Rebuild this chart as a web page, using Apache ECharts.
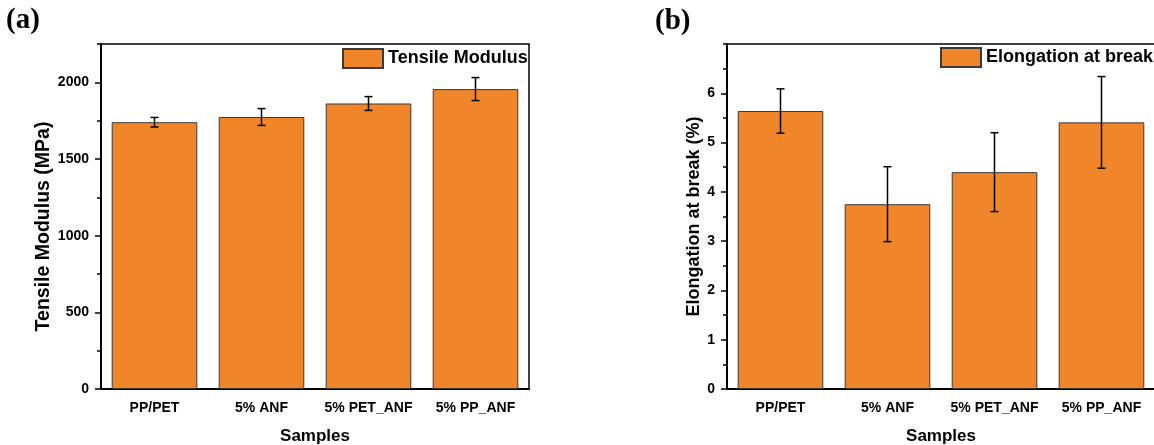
<!DOCTYPE html>
<html>
<head>
<meta charset="utf-8">
<script src="https://cdn.jsdelivr.net/npm/echarts@6/dist/echarts.min.js"></script>
<style>
  html, body { margin: 0; padding: 0; background: #fff; }
  #main { width: 1154px; height: 445px; }
</style>
</head>
<body>
<div id="main"></div>
<script>
  // data
  const samples = ['PP/PET', '5% ANF', '5% PET_ANF', '5% PP_ANF'];
  const modulus = [1740, 1774, 1862, 1956];
  const modulusErr = [31, 55, 45, 75];
  const elongation = [5.64, 3.75, 4.40, 5.41];
  const elongationErr = [0.45, 0.76, 0.80, 0.93];

  const orange = '#F0852A';
  const font = 'Liberation Sans';

  function errData(vals, errs) {
    return vals.map((v, i) => [i, v, errs[i]]);
  }

  function errRender(params, api) {
    let x = api.value(0), v = api.value(1), e = api.value(2);
    let hi = api.coord([x, v + e]);
    let lo = api.coord([x, v - e]);
    let st = { stroke: '#000', lineWidth: 1.5 };
    return {
      type: 'group',
      children: [
        { type: 'line', shape: { x1: hi[0], y1: hi[1], x2: lo[0], y2: lo[1] }, style: st },
        { type: 'line', shape: { x1: hi[0] - 4, y1: hi[1], x2: hi[0] + 4, y2: hi[1] }, style: st },
        { type: 'line', shape: { x1: lo[0] - 4, y1: lo[1], x2: lo[0] + 4, y2: lo[1] }, style: st }
      ]
    };
  }

  function catAxes(grid) {
    return [{
      type: 'category', gridIndex: grid, position: 'bottom', data: samples,
      axisLine: { lineStyle: { color: '#000', width: 2 } },
      axisTick: { alignWithLabel: true, interval: 0, length: 7, lineStyle: { color: '#000', width: 1.5 } },
      axisLabel: { interval: 0, color: '#000', fontFamily: font, fontWeight: 'bold', fontSize: 14, margin: 12 },
      name: 'Samples', nameLocation: 'middle', nameGap: 39,
      nameTextStyle: { color: '#000', fontFamily: font, fontWeight: 'bold', fontSize: 17 }
    }, {
      type: 'category', gridIndex: grid, position: 'bottom', data: samples,
      axisLine: { show: false },
      axisTick: { interval: 0, length: 4, lineStyle: { color: '#000', width: 1.5 } },
      axisLabel: { show: false }
    }];
  }

  function valAxes(grid, max, step, title, gap, size, pad) {
    return [{
      type: 'value', gridIndex: grid, position: 'left', min: 0, max: max, interval: step,
      axisLine: { show: true, lineStyle: { color: '#000', width: 2 } },
      axisTick: { show: true, length: 6, lineStyle: { color: '#000', width: 1.5 } },
      axisLabel: { color: '#000', fontFamily: font, fontWeight: 'bold', fontSize: 14, margin: 12,
        showMaxLabel: false, formatter: v => String(v) },
      splitLine: { show: false },
      name: title, nameLocation: 'middle', nameGap: gap,
      nameTextStyle: { color: '#000', fontFamily: font, fontWeight: 'bold', fontSize: size, padding: pad }
    }, {
      type: 'value', gridIndex: grid, position: 'left', min: 0, max: max, interval: step / 2,
      axisLine: { show: false },
      axisTick: { show: true, length: 4, lineStyle: { color: '#000', width: 1.5 } },
      axisLabel: { show: false },
      splitLine: { show: false }
    }];
  }

  const barStyle = { color: orange, borderColor: '#3a3a3a', borderWidth: 1 };

  let chart = echarts.init(document.getElementById('main'));
  chart.setOption({
    animation: false,
    title: [
      { text: '(a)', left: 6, top: 6, padding: 0,
        textStyle: { fontFamily: 'Liberation Serif', fontWeight: 'bold', fontSize: 29, color: '#000' } },
      { text: '(b)', left: 655, top: 7, padding: 0,
        textStyle: { fontFamily: 'Liberation Serif', fontWeight: 'bold', fontSize: 29, color: '#000' } }
    ],
    legend: [
      { data: ['Tensile Modulus'], left: 342, top: 48, padding: 0, itemWidth: 40, itemHeight: 19, itemGap: 5,
        icon: 'rect', textStyle: { color: '#000', fontFamily: font, fontWeight: 'bold', fontSize: 18 } },
      { data: ['Elongation at break'], left: 940, top: 47, padding: 0, itemWidth: 40, itemHeight: 19, itemGap: 5,
        icon: 'rect', textStyle: { color: '#000', fontFamily: font, fontWeight: 'bold', fontSize: 18 } }
    ],
    grid: [
      { left: 101, top: 44, width: 428, height: 345, outerBoundsMode: 'none',
        show: true, borderColor: '#000', borderWidth: 1.5 },
      { left: 727, top: 44, width: 428, height: 345, outerBoundsMode: 'none',
        show: true, borderColor: '#000', borderWidth: 1.5 }
    ],
    xAxis: catAxes(0).concat(catAxes(1)),
    yAxis: valAxes(0, 2250, 500, 'Tensile Modulus (MPa)', 46, 19.5, [0, 20, 0, 0])
      .concat(valAxes(1, 7, 1, 'Elongation at break (%)', 23, 18, 0)),
    series: [
      { name: 'Tensile Modulus', type: 'bar', xAxisIndex: 0, yAxisIndex: 0, data: modulus,
        barCategoryGap: '20%', itemStyle: barStyle },
      { type: 'custom', xAxisIndex: 0, yAxisIndex: 0, data: errData(modulus, modulusErr),
        renderItem: errRender, encode: { x: 0, y: 1 }, z: 5 },
      { name: 'Elongation at break', type: 'bar', xAxisIndex: 2, yAxisIndex: 2, data: elongation,
        barCategoryGap: '20%', itemStyle: barStyle },
      { type: 'custom', xAxisIndex: 2, yAxisIndex: 2, data: errData(elongation, elongationErr),
        renderItem: errRender, encode: { x: 0, y: 1 }, z: 5 }
    ]
  });
</script>
</body>
</html>
